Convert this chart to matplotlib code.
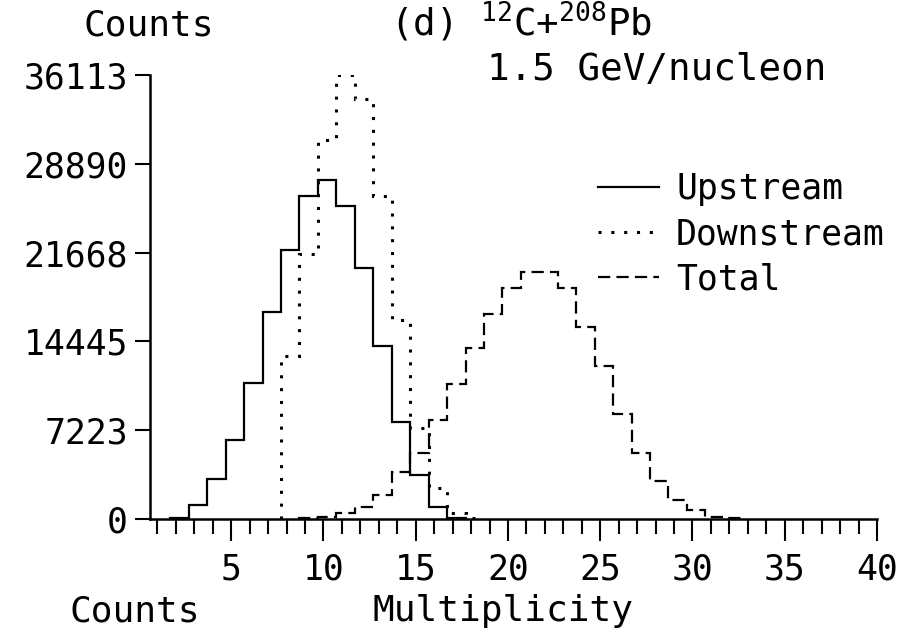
import numpy as np
import matplotlib
matplotlib.use('Agg')
import matplotlib.pyplot as plt
from matplotlib.lines import Line2D

plt.rcParams['font.family'] = ['DejaVu Sans Mono']
plt.rcParams['mathtext.fontset'] = 'custom'
plt.rcParams['mathtext.rm'] = 'DejaVu Sans Mono'
plt.rcParams['mathtext.default'] = 'regular'

# counts per multiplicity bin
up_start = 1.7
upstream = [80, 1130, 3230, 6430, 11080, 16870, 21870, 26310, 27580, 25420,
            20440, 14040, 7850, 3550, 990, 60]
down_start = 7.7
downstream = [13240, 21570, 30850, 36113, 34140, 26300, 16200, 7400, 2500, 480, 100]
tot_start = 8.7
total = [50, 150, 480, 970, 1940, 3820, 5330, 8050, 10950, 13900, 16700, 18750,
         20090, 20090, 18750, 15620, 12430, 8500, 5400, 3120, 1530, 730, 190, 50]

yticks = [0, 7223, 14445, 21668, 28890, 36113]
xticks = [5, 10, 15, 20, 25, 30, 35, 40]

fig = plt.figure(figsize=(9.06, 6.3), dpi=100)
ax = fig.add_axes([150/906, 111/630, 727/906, 444/630])

def edges(start, vals):
    return start + np.arange(len(vals) + 1)

ax.stairs(upstream, edges(up_start, upstream), baseline=0, color='black',
          lw=1.6, ls='-')
ax.stairs(downstream, edges(down_start, downstream), baseline=0, color='black',
          lw=2.2, ls=(0, (1, 3.2)))
ax.stairs(total, edges(tot_start, total), baseline=0, color='black',
          lw=1.6, ls=(0, (5.5, 2.8)))

ax.set_xlim(0.6, 40)
ax.set_ylim(0, 36113)
ax.set_xticks(xticks)
ax.set_xticks(range(1, 41), minor=True)
ax.set_yticks(yticks)
ax.spines['top'].set_visible(False)
ax.spines['right'].set_visible(False)
ax.spines['left'].set_linewidth(1.8)
ax.spines['bottom'].set_linewidth(1.8)
ax.tick_params(axis='x', which='major', length=16, width=1.5, pad=8, labelsize=25)
ax.tick_params(axis='x', which='minor', length=11, width=1.5)
ax.tick_params(axis='y', which='major', length=11, width=1.5, pad=5, labelsize=25)

handles = [Line2D([], [], color='black', lw=1.6, ls='-'),
           Line2D([], [], color='black', lw=2.2, ls=(0, (1, 3.2))),
           Line2D([], [], color='black', lw=1.6, ls=(0, (5.5, 2.8)))]
fig.legend(handles, ['Upstream', 'Downstream', 'Total'], loc='upper left',
           bbox_to_anchor=(598/906, 1 - 172/630), frameon=False, fontsize=25,
           handlelength=1.75, handletextpad=0.5, labelspacing=0.32, borderpad=0,
           borderaxespad=0)

fig.text(83/906, 1 - 25/630, 'Counts', fontsize=26, va='center')
fig.text(390/906, 1 - 36/630, '(d) $^{12}$C+$^{208}$Pb', fontsize=27, va='baseline')
fig.text(487/906, 1 - 80/630, '1.5 GeV/nucleon', fontsize=27, va='baseline')
fig.text(69/906, 1 - 621/630, 'Counts', fontsize=26, va='baseline')
fig.text(373/906, 1 - 621/630, 'Multiplicity', fontsize=26, va='baseline')

fig.savefig('out.png', dpi=100)
